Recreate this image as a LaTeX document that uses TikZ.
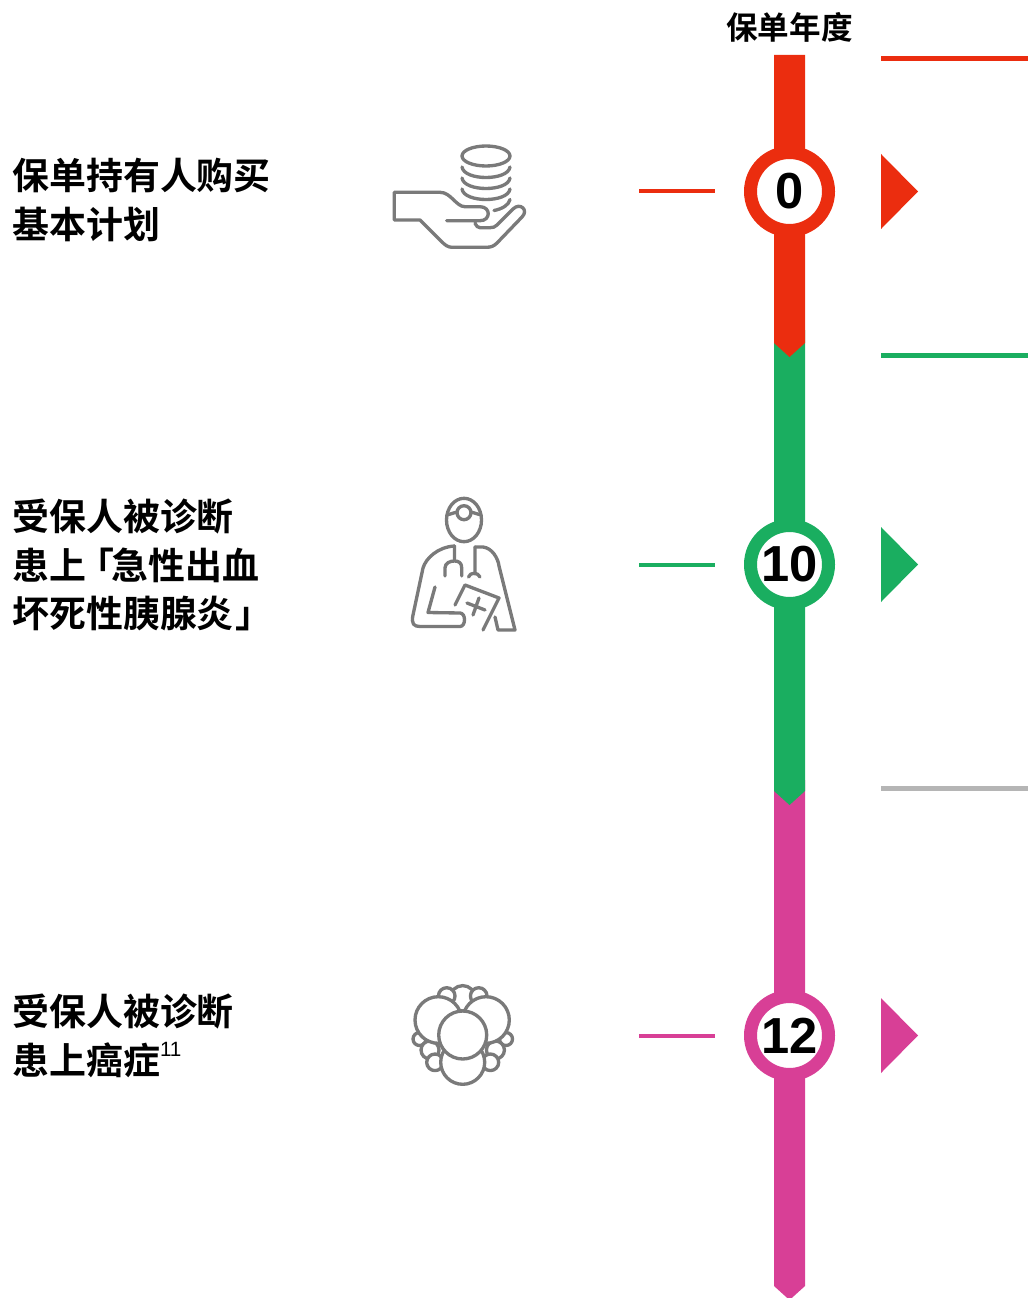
\documentclass[tikz,border=0pt]{standalone}
\usepackage{fontspec}
\usetikzlibrary{positioning}
\setmainfont{Liberation Sans}
\newfontfamily\cjk{Noto Sans CJK SC}[BoldFont={Noto Sans CJK SC Bold}]
\definecolor{stagered}{HTML}{EB2D0F}
\definecolor{stagegreen}{HTML}{1AAE60}
\definecolor{stagepink}{HTML}{D83F96}
\definecolor{icongray}{HTML}{7A7A7A}
\definecolor{rulegray}{HTML}{B5B5B5}
\begin{document}
\begin{tikzpicture}[x=0.75pt,y=-0.75pt,
    year/.style = {draw, circle, fill=white, line width=9.75pt, minimum size=58.5pt, inner sep=0pt, font=\fontsize{38}{38}\selectfont\bfseries},
    event/.style = {anchor=west, align=left, inner sep=0pt, font=\fontsize{27.7}{36.4}\selectfont\cjk\bfseries},
    tick/.style = {line width=3pt},
    band/.style = {line width=3.75pt},
    icon/.style = {draw=icongray, line width=2.5pt, line join=round, line cap=round},
    bubble/.style = {icon, fill=white}]
    \useasboundingbox (0,0) rectangle (1028,1298);
    % timeline
    \fill[stagepink] (774,780) -- (805,780) -- (805,1286) -- (789.5,1300) -- (774,1286) -- cycle;
    \fill[stagegreen] (774,330) -- (805,330) -- (805,791) -- (789.5,805) -- (774,791) -- cycle;
    \fill[stagered] (774,55) -- (805,55) -- (805,343) -- (789.5,357) -- (774,343) -- cycle;
    \node[font=\fontsize{23.7}{24}\selectfont\cjk\bfseries](head) at (789.5,27){保单年度};
    \node[year, draw=stagered](y0) at (789.5,191.5){0};
    \node[year, draw=stagegreen](y10) at (789.5,564.5){10};
    \node[year, draw=stagepink](y12) at (789.5,1035.5){12};
    % ticks
    \coordinate (a0) at (639,191.5);
    \coordinate (b0) at (715,191.5);
    \draw[tick, stagered] (a0) -- (b0);
    \coordinate (a10) at (639,564.5);
    \coordinate (b10) at (715,564.5);
    \draw[tick, stagegreen] (a10) -- (b10);
    \coordinate (a12) at (639,1035.5);
    \coordinate (b12) at (715,1035.5);
    \draw[tick, stagepink] (a12) -- (b12);
    % bands on the right
    \coordinate (c0) at (881,58.5);
    \coordinate (d0) at (1028,58.5);
    \draw[band, stagered] (c0) -- (d0);
    \coordinate (c10) at (881,355.5);
    \coordinate (d10) at (1028,355.5);
    \draw[band, stagegreen] (c10) -- (d10);
    \coordinate (c12) at (881,788.5);
    \coordinate (d12) at (1028,788.5);
    \draw[band, rulegray] (c12) -- (d12);
    % triangles
    \fill[stagered] (881,154) -- (918,191.5) -- (881,229) -- cycle;
    \fill[stagegreen] (881,527) -- (918,564.5) -- (881,602) -- cycle;
    \fill[stagepink] (881,998) -- (918,1035.5) -- (881,1073) -- cycle;
    % texts
    \node[event](t0) at (12,200){保单持有人购买\\基本计划};
    \node[event](t10) at (12,565){受保人被诊断\\患上\hspace{-.24em}「\hspace{-.08em}急性出血\\坏死性胰腺炎\hspace{.04em}」};
    \node[event](t12) at (12,1036){受保人被诊断\\患上癌症\raisebox{.48em}{\fontsize{15.5}{15.5}\selectfont\mdseries\rmfamily 11}};
    % coins and hand
    \draw[icon] (486,156) ellipse (24 and 10);
    \foreach \ypos in {167,178,189}
        \draw[icon] (462,\ypos) .. controls (464,\ypos+14) and (508,\ypos+14) .. (510,\ypos);
    \draw[icon] (510,199.5) .. controls (509,205) and (502,209) .. (494,210.5);
    \draw[icon] (446.7,220.7) -- (480,220.7) .. controls (491,220.7) and (491,206.7) .. (480,206.7)
        -- (465,206.7) .. controls (456,206.7) and (451,192.3) .. (440,192.3) -- (394.3,192.3) -- (394.3,220)
        -- (420,220) -- (441.7,241.7) .. controls (445,245) and (448,247.3) .. (452,247.3) -- (486.7,247.3)
        .. controls (491,247.3) and (494,246) .. (497,243) -- (522,217) .. controls (529,210) and (520,202) .. (513,209)
        -- (497,225) .. controls (495,227) and (493,227.7) .. (490,227.7) -- (480,227.7) .. controls (478,227.7) and (476,226) .. (475,223.3);
    % doctor
    \draw[icon] (464,520) ellipse (17.5 and 21.7);
    \draw[bubble] (464,512.7) circle (7);
    \draw[icon] (447,515) -- (457,512);
    \draw[icon] (471,512) -- (481,515);
    \draw[icon] (454.5,546) -- (454.5,554) (445,576) -- (445,568) .. controls (445,563) and (450,561) .. (454.5,561)
        .. controls (459,561) and (461.7,563) .. (461.7,568) -- (461.7,576) (454.5,554) -- (454.5,561);
    \draw[icon] (454.5,546) .. controls (438,547) and (426,558) .. (423,568) -- (413,615)
        .. controls (411,624) and (414,626.5) .. (420,626.5) -- (460,626.5) .. controls (466,626.5) and (466,613) .. (460,613)
        -- (428,612.5) -- (435,587);
    \draw[icon] (475,547) -- (475,574) (468.5,577) .. controls (470,572) and (478,572) .. (480,577);
    \draw[icon] (475,547) -- (483,547) .. controls (492,548) and (498,558) .. (499,566) -- (515,630) -- (498,630) -- (495,617);
    \draw[icon] (455,605) -- (465,585) -- (499,598) -- (483,630);
    \draw[icon] (467,603) -- (485,610) (479,598) -- (473,615);
    % cells
    \foreach \cx/\cy/\cr in {462.7/998.3/12.7, 446.7/996/8.3, 478.7/996/8.3, 419.5/1039/6.5, 506/1039/6.5, 430/1050/9, 495.4/1050/9, 435/1062.3/8.3, 490.4/1062.3/8.3}
        \draw[bubble] (\cx,\cy) circle (\cr);
    \draw[bubble] (462.7,1062.3) circle (22);
    \draw[bubble] (438.3,1020) circle (23.3);
    \draw[bubble] (486,1020) circle (23.3);
    \draw[bubble] (462.7,1035) circle (24);
\end{tikzpicture}
\end{document}
